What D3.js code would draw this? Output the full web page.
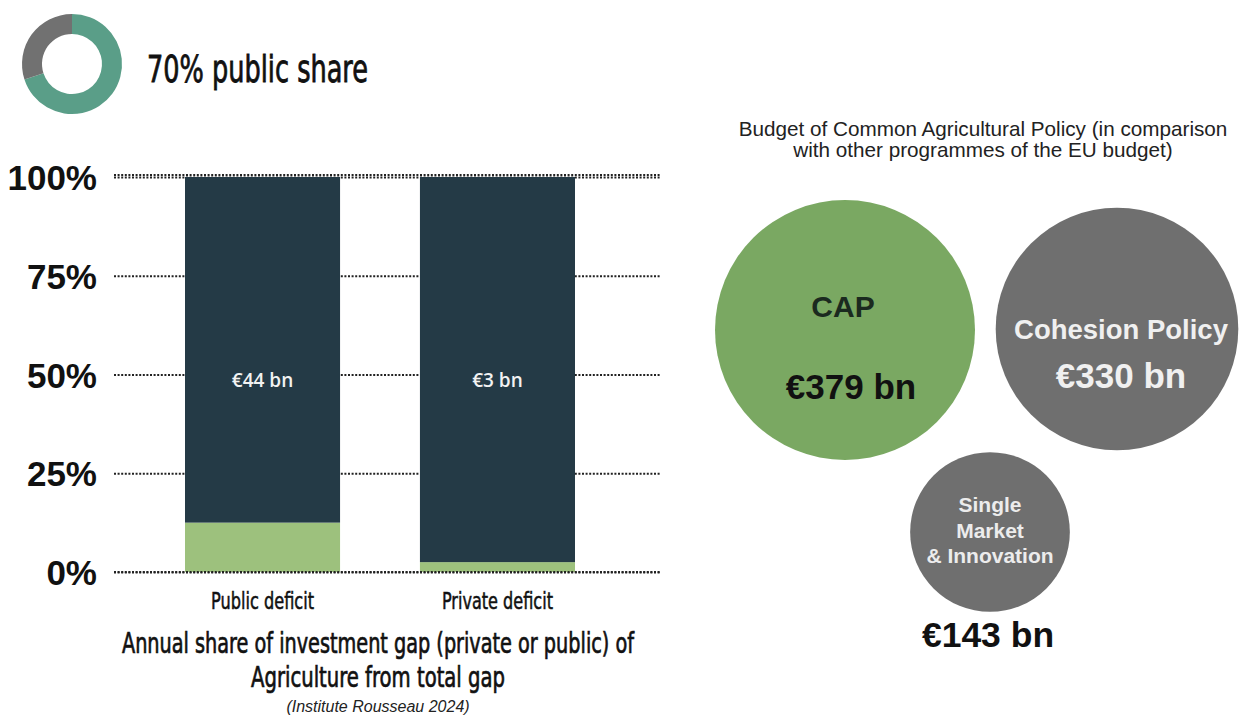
<!DOCTYPE html>
<html>
<head>
<meta charset="utf-8">
<script src="https://cdn.jsdelivr.net/npm/d3@7"></script>
<style>
  html, body { margin: 0; padding: 0; background: #fff; }
  svg { display: block; }
</style>
</head>
<body>
<svg id="chart" width="1243" height="716"></svg>
<script>
// ---------------- DATA ----------------
const donutLabels = ["public", "private"];
const donutValues = [70, 30];
const headline = "70% public share";

const categories = ["Public deficit", "Private deficit"];
const agricultureShare = [12.5, 2.5];     // % of total gap (green)
const otherShare = [87.5, 97.5];          // remainder (dark)
const barLabels = ["€44 bn", "€3 bn"];
const yTicks = [0, 25, 50, 75, 100];
const yTickLabels = ["0%", "25%", "50%", "75%", "100%"];

const barTitle = ["Annual share of investment gap (private or public) of", "Agriculture from total gap"];
const barSource = "(Institute Rousseau 2024)";

const bubbleTitle = ["Budget of Common Agricultural Policy (in comparison", "with other programmes of the EU budget)"];
const programmes = ["CAP", "Cohesion Policy", "Single Market & Innovation"];
const budgets = [379, 330, 143];          // € bn
const budgetLabels = ["€379 bn", "€330 bn", "€143 bn"];

// ---------------- LAYOUT ----------------
const svg = d3.select("#chart");
svg.append("rect").attr("width", 1243).attr("height", 716).attr("fill", "#fff");

const condensed = "'Liberation Sans Narrow', 'DejaVu Sans Condensed', 'Roboto Condensed', 'Liberation Sans', sans-serif";
const arial = "'Liberation Sans', Arial, Helvetica, sans-serif";

// Donut
const donutG = svg.append("g").attr("transform", "translate(72,64)");
const pie = d3.pie().sort(null).value(d => d);
const arc = d3.arc().innerRadius(30).outerRadius(50);
const donutColors = d3.scaleOrdinal().domain(donutLabels).range(["#5a9e88", "#717171"]);
donutG.selectAll("path").data(pie(donutValues)).join("path")
  .attr("d", arc)
  .attr("fill", (d, i) => donutColors(donutLabels[i]));

svg.append("text").attr("x", 147).attr("y", 82)
  .attr("font-family", condensed).attr("font-size", 38).attr("fill", "#111")
  .attr("stroke", "#111").attr("stroke-width", 0.8)
  .attr("textLength", 221).attr("lengthAdjust", "spacingAndGlyphs")
  .text(headline);

// Bar chart
const y = d3.scaleLinear().domain([0, 100]).range([572, 177]);
const x = d3.scaleBand().domain(categories).range([185, 575]).paddingInner(0.34).paddingOuter(0);

const gridX0 = 114, gridX1 = 660;
const axis = d3.axisLeft(y).tickValues(yTicks)
  .tickFormat((d, i) => yTickLabels[i])
  .tickSize(-(gridX1 - gridX0)).tickPadding(17);

const axisG = svg.append("g").attr("transform", `translate(${gridX0},0)`).call(axis);
axisG.select(".domain").remove();
axisG.selectAll(".tick line")
  .attr("stroke", "#222").attr("stroke-width", 2.2).attr("stroke-dasharray", "2,1.6");
axisG.selectAll(".tick text")
  .attr("font-family", arial).attr("font-weight", "bold").attr("font-size", 35)
  .attr("fill", "#111").attr("dy", "0.36em");

const stackData = categories.map((c, i) => ({ cat: c, agri: agricultureShare[i], other: otherShare[i] }));
const stack = d3.stack().keys(["agri", "other"]);
const series = stack(stackData);
const barColors = { agri: "#9dc17d", other: "#243a46" };

svg.append("g").selectAll("g").data(series).join("g")
  .attr("fill", d => barColors[d.key])
  .selectAll("rect").data(d => d).join("rect")
  .attr("x", d => x(d.data.cat))
  .attr("width", x.bandwidth())
  .attr("y", d => y(d[1]))
  .attr("height", d => y(d[0]) - y(d[1]));

// re-draw the 0% and 100% gridlines on top of the bars
svg.append("g").selectAll("line").data([0, 100]).join("line")
  .attr("x1", gridX0).attr("x2", gridX1)
  .attr("y1", d => y(d) + (d === 100 ? -2 : 0)).attr("y2", d => y(d) + (d === 100 ? -2 : 0))
  .attr("stroke", "#222").attr("stroke-width", 2.2).attr("stroke-dasharray", "2,1.6");

svg.append("g").selectAll("text").data(categories).join("text")
  .attr("x", d => x(d) + x.bandwidth() / 2)
  .attr("y", y(50) + 12)
  .attr("text-anchor", "middle")
  .attr("font-family", "'Open Sans', 'Noto Sans', sans-serif").attr("font-weight", 600)
  .attr("font-size", 19).attr("fill", "#f2f2f2")
  .text((d, i) => barLabels[i]);

const xLabelWidths = [103, 111];
svg.append("g").selectAll("text").data(categories).join("text")
  .attr("x", d => x(d) + x.bandwidth() / 2)
  .attr("y", 609)
  .attr("text-anchor", "middle")
  .attr("font-family", condensed).attr("font-size", 23).attr("fill", "#111")
  .attr("stroke", "#111").attr("stroke-width", 0.5)
  .attr("textLength", (d, i) => xLabelWidths[i]).attr("lengthAdjust", "spacingAndGlyphs")
  .text(d => d);

const titleWidths = [512, 254];
svg.append("g").selectAll("text").data(barTitle).join("text")
  .attr("x", 378).attr("y", (d, i) => 653 + i * 34)
  .attr("text-anchor", "middle")
  .attr("font-family", condensed).attr("font-size", 29).attr("fill", "#111")
  .attr("stroke", "#111").attr("stroke-width", 0.7)
  .attr("textLength", (d, i) => titleWidths[i]).attr("lengthAdjust", "spacingAndGlyphs")
  .text(d => d);

svg.append("text").attr("x", 378).attr("y", 712)
  .attr("text-anchor", "middle")
  .attr("font-family", arial).attr("font-style", "italic").attr("font-size", 16)
  .attr("fill", "#222").text(barSource);

// Bubble chart
svg.append("g").selectAll("text").data(bubbleTitle).join("text")
  .attr("x", 983).attr("y", (d, i) => 136 + i * 21)
  .attr("text-anchor", "middle")
  .attr("font-family", arial).attr("font-size", 20.7).attr("fill", "#222")
  .text(d => d);

const r = d3.scaleSqrt().domain([0, d3.max(budgets)]).range([0, 130]);
const bubbleCenters = [[845, 330], [1117, 329], [990, 532]];
const bubbleFill = ["#7aa862", "#6f6f6f", "#6f6f6f"];

const bubbles = programmes.map((p, i) => ({ name: p, value: budgets[i], label: budgetLabels[i], c: bubbleCenters[i], fill: bubbleFill[i] }));

svg.append("g").selectAll("circle").data(bubbles).join("circle")
  .attr("cx", d => d.c[0]).attr("cy", d => d.c[1])
  .attr("r", d => r(d.value))
  .attr("fill", d => d.fill);

// CAP labels
const b0 = bubbles[0];
svg.append("text").attr("x", b0.c[0] - 2).attr("y", b0.c[1] - 13)
  .attr("text-anchor", "middle").attr("font-family", arial).attr("font-weight", "bold")
  .attr("font-size", 30).attr("fill", "#1b2a1f").text(b0.name);
svg.append("text").attr("x", b0.c[0] + 6).attr("y", b0.c[1] + 69)
  .attr("text-anchor", "middle").attr("font-family", arial).attr("font-weight", "bold")
  .attr("font-size", 35).attr("fill", "#111").text(b0.label);

// Cohesion labels
const b1 = bubbles[1];
svg.append("text").attr("x", b1.c[0] + 4).attr("y", b1.c[1] + 10)
  .attr("text-anchor", "middle").attr("font-family", arial).attr("font-weight", "bold")
  .attr("font-size", 27.5).attr("fill", "#f0f0f0").text(b1.name);
svg.append("text").attr("x", b1.c[0] + 4).attr("y", b1.c[1] + 59)
  .attr("text-anchor", "middle").attr("font-family", arial).attr("font-weight", "bold")
  .attr("font-size", 35).attr("fill", "#f0f0f0").text(b1.label);

// Single Market labels
const b2 = bubbles[2];
const b2Lines = ["Single", "Market", "& Innovation"];
svg.append("g").selectAll("text").data(b2Lines).join("text")
  .attr("x", b2.c[0]).attr("y", (d, i) => 512 + i * 25.5)
  .attr("text-anchor", "middle").attr("font-family", arial).attr("font-weight", "bold")
  .attr("font-size", 21).attr("fill", "#ececec").text(d => d);
svg.append("text").attr("x", b2.c[0] - 2).attr("y", 647)
  .attr("text-anchor", "middle").attr("font-family", arial).attr("font-weight", "bold")
  .attr("font-size", 35.5).attr("fill", "#111").text(b2.label);
</script>
</body>
</html>
